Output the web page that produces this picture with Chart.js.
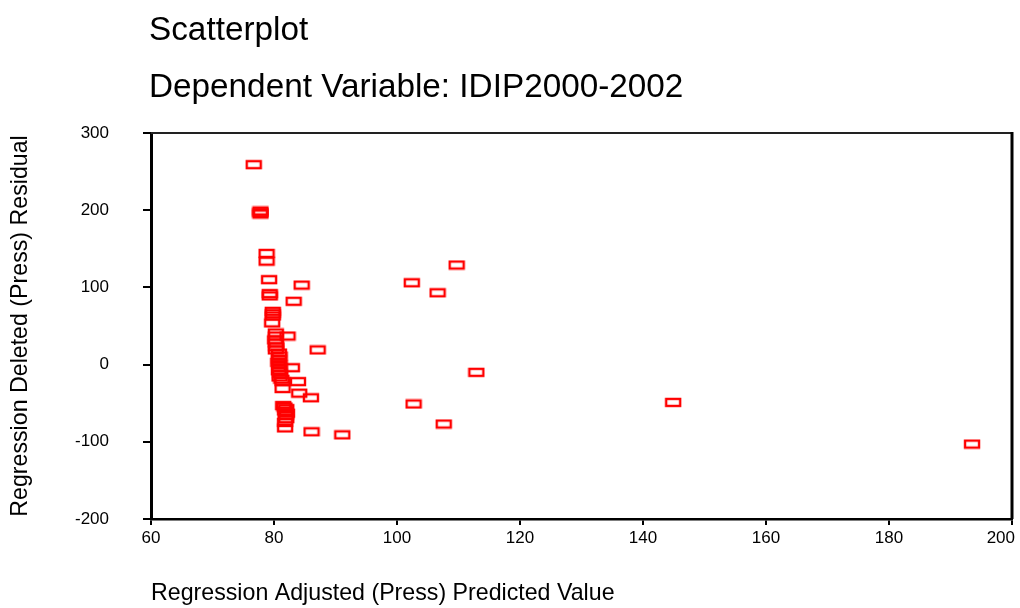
<!DOCTYPE html>
<html>
<head>
<meta charset="utf-8">
<script src="https://cdn.jsdelivr.net/npm/chart.js@4/dist/chart.umd.min.js"></script>
<style>
  html, body { margin: 0; padding: 0; background: #fff; }
  #wrap { width: 1020px; height: 608px; }
</style>
</head>
<body>
<div id="wrap"><canvas id="plot" width="1020" height="608"></canvas></div>
<script>
// adjusted (press) predicted value, one per case
const adjPredicted = [
  76.7, 77.8, 77.8, 77.8, 78.8, 78.8, 79.2, 79.3, 79.3, 84.5,
  83.2, 79.8, 79.8, 79.8, 79.7, 80.3, 80.3, 80.2, 80.3, 80.4,
  80.3, 82.2, 87.1, 80.8, 80.9, 80.8, 80.7, 80.9, 80.9, 80.8,
  81.0, 80.9, 81.2, 81.4, 82.9, 83.9, 81.4, 84.1, 86.0, 81.5,
  81.7, 82.0, 81.8, 82.1, 81.9, 82.0, 81.8, 81.8, 86.1, 91.1,
  102.4, 106.6, 109.7, 112.9, 102.7, 107.6, 144.9, 193.5
];
// deleted (press) residual, same order
const delResidual = [
  259, 199, 197, 195, 144, 134, 110, 92, 89, 103,
  82, 69, 66, 63, 54, 41, 37, 32, 28, 23,
  19, 37, 19, 15, 11, 7, 3, 0, -4, -8,
  -12, -16, -19, -22, -4, -22, -31, -37, -43, -53,
  -55, -57, -60, -63, -66, -70, -75, -82, -87, -91,
  106, 93, 129, -10, -51, -77, -49, -103
];

const titleLines = ['Scatterplot', 'Dependent Variable: IDIP2000-2002'];
const xTitle = 'Regression Adjusted (Press) Predicted Value';
const yTitle = 'Regression Deleted (Press) Residual';

const points = adjPredicted.map((x, i) => ({ x, y: delResidual[i] }));

// hollow red box used as the marker
function boxMarker() {
  const c = document.createElement('canvas');
  c.width = 18; c.height = 11;
  const g = c.getContext('2d');
  g.strokeStyle = '#ff0000';
  g.lineWidth = 2.4;
  g.strokeRect(2, 2, 14, 7);
  return c;
}

const FONT = "'Liberation Sans', Arial, sans-serif";

// headings above the plot and the top/right frame lines
const framePlugin = {
  id: 'frame',
  beforeDraw(chart) {
    const { ctx } = chart;
    ctx.save();
    ctx.fillStyle = '#000';
    ctx.font = '33.3px ' + FONT;
    ctx.textBaseline = 'alphabetic';
    ctx.textAlign = 'left';
    ctx.fillText(titleLines[0], 149, 40);
    ctx.fillText(titleLines[1], 149, 97);
    ctx.restore();

    // keep the last x label inside the canvas
    const items = chart.scales.x.getLabelItems();
    const last = items[items.length - 1];
    if (last) {
      last.options.textAlign = 'right';
      last.options.translation[0] = chart.chartArea.right + 3;
    }
  },
  afterDatasetsDraw(chart) {
    const { ctx, chartArea: a } = chart;
    ctx.save();
    ctx.strokeStyle = '#222';
    ctx.lineWidth = 2;
    ctx.beginPath();
    ctx.moveTo(a.left, a.top);
    ctx.lineTo(a.right, a.top);
    ctx.stroke();
    ctx.strokeStyle = '#000';
    ctx.lineWidth = 3;
    ctx.beginPath();
    ctx.moveTo(a.right, a.top - 1);
    ctx.lineTo(a.right, a.bottom);
    ctx.stroke();
    ctx.restore();
  }
};

new Chart(document.getElementById('plot').getContext('2d'), {
  type: 'scatter',
  data: {
    datasets: [{
      data: points,
      pointStyle: boxMarker(),
      pointRadius: 7,
      pointHoverRadius: 7
    }]
  },
  options: {
    responsive: false,
    animation: false,
    events: [],
    layout: { padding: { top: 133, right: 7, bottom: 0, left: 0 } },
    plugins: { legend: { display: false }, tooltip: { enabled: false } },
    scales: {
      x: {
        type: 'linear',
        min: 60, max: 200,
        afterFit: (s) => { s.height = 89; s.paddingLeft = 0; s.paddingRight = 0; },
        border: { display: true, color: '#000', width: 2.5 },
        grid: { drawOnChartArea: false, drawTicks: true, tickLength: 6, color: '#000', lineWidth: 2 },
        ticks: { stepSize: 20, color: '#000', padding: 3, maxRotation: 0, font: { family: FONT, size: 17 } },
        title: { display: true, text: xTitle, align: 'start', color: '#000', padding: { top: 0, bottom: 0 }, font: { family: FONT, size: 23.2 } }
      },
      y: {
        type: 'linear',
        min: -200, max: 300,
        afterFit: (s) => { s.width = 151; s.paddingTop = 0; s.paddingBottom = 0; },
        border: { display: true, color: '#000', width: 3 },
        grid: { drawOnChartArea: false, drawTicks: true, tickLength: 8, color: '#000', lineWidth: 2 },
        ticks: { stepSize: 100, color: '#000', padding: 34, font: { family: FONT, size: 17 } },
        title: { display: true, text: yTitle, color: '#000', padding: { top: 7, bottom: 0 }, font: { family: FONT, size: 23.2 } }
      }
    }
  },
  plugins: [framePlugin]
});
</script>
</body>
</html>
